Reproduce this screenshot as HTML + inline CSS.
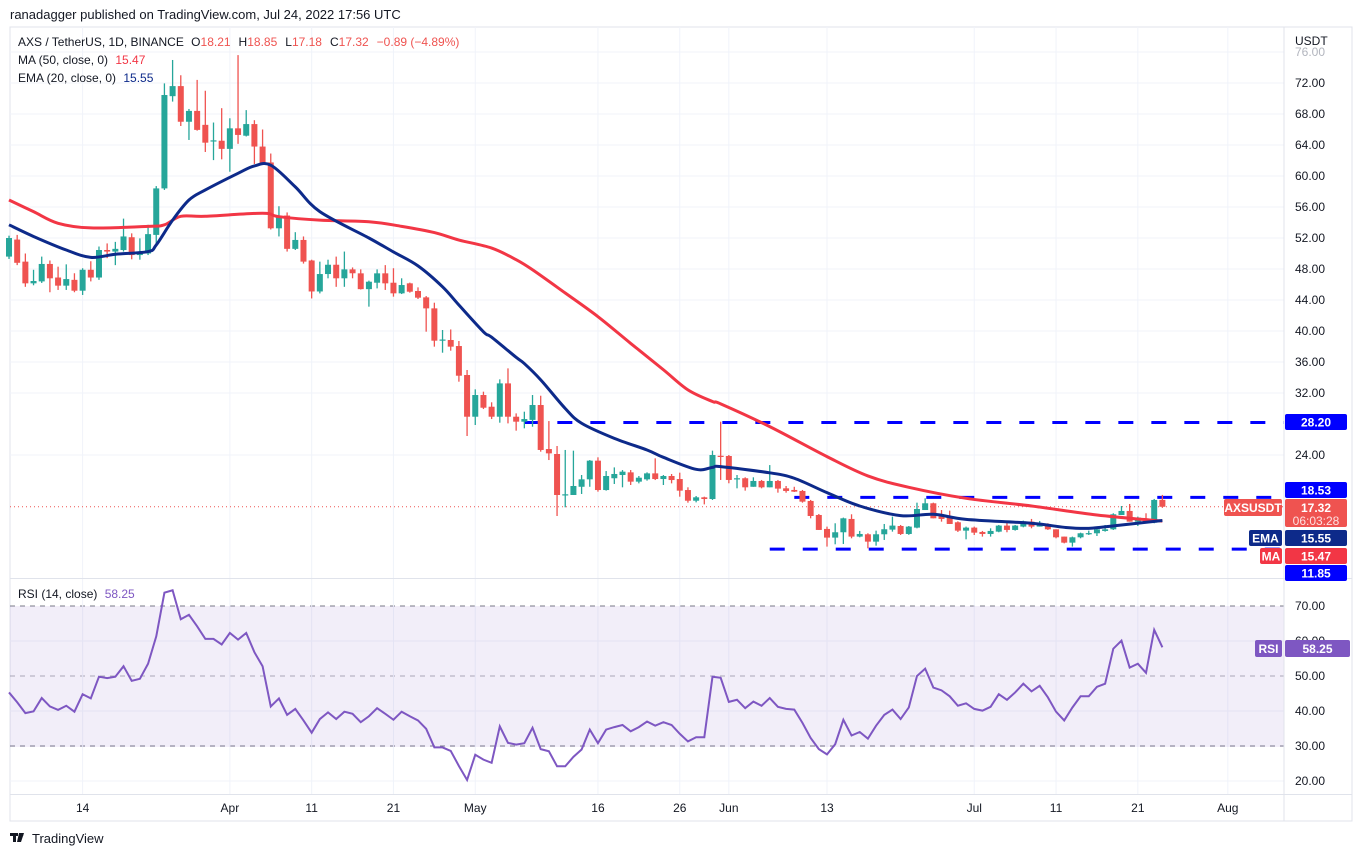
<!DOCTYPE html>
<html><head><meta charset="utf-8">
<style>
body{margin:0;background:#fff;width:1362px;height:857px;overflow:hidden;font-family:"Liberation Sans",sans-serif;}
svg{position:absolute;left:0;top:0}
</style></head>
<body>
<svg id="c" width="1362" height="857" viewBox="0 0 1362 857" font-family="Liberation Sans, sans-serif">
<text x="10" y="19" font-size="13" fill="#131722">ranadagger published on TradingView.com, Jul 24, 2022 17:56 UTC</text>
<rect x="10" y="27" width="1342" height="794" fill="none" stroke="#e0e3eb"/>
<g id="grid"></g>
<rect x="10" y="606" width="1274" height="141" fill="rgba(126,87,194,0.1)"/>
<g id="levels"></g>
<g id="candles"></g>
<g id="lines"></g>
<g id="rsi"></g>
<line x1="1284" y1="27" x2="1284" y2="821" stroke="#e0e3eb"/>
<line x1="10" y1="578.5" x2="1352" y2="578.5" stroke="#e0e3eb"/>
<line x1="10" y1="794.5" x2="1352" y2="794.5" stroke="#e0e3eb"/>
<g id="axis" font-size="12" fill="#131722"></g>
<g id="legend" font-size="12">
<text x="18" y="46" fill="#131722">AXS / TetherUS, 1D, BINANCE  <tspan dx="4">O</tspan><tspan fill="#ef5350">18.21</tspan><tspan dx="8">H</tspan><tspan fill="#ef5350">18.85</tspan><tspan dx="8">L</tspan><tspan fill="#ef5350">17.18</tspan><tspan dx="8">C</tspan><tspan fill="#ef5350">17.32</tspan><tspan dx="8" fill="#ef5350">−0.89 (−4.89%)</tspan></text>
<text x="18" y="64" fill="#131722">MA (50, close, 0) <tspan dx="4" fill="#f23645">15.47</tspan></text>
<text x="18" y="82" fill="#131722">EMA (20, close, 0) <tspan dx="4" fill="#0d2a8a">15.55</tspan></text>
<text x="18" y="598" fill="#131722">RSI (14, close) <tspan dx="4" fill="#7e57c2">58.25</tspan></text>
</g>
<g id="tags" font-size="12" font-weight="bold"></g>
<g>
<rect x="10" y="833" width="8" height="3" fill="#131722"/><rect x="13" y="833" width="3" height="9" fill="#131722"/>
<polygon points="19,833 24,833 21,842 17,842" fill="#131722"/><circle cx="22" cy="834.5" r="1.5" fill="#131722"/>
<text x="32" y="843" font-size="13" fill="#131722">TradingView</text>
</g>
</svg>
<script>
const opens=[49.6,51.8,48.95,46.15,46.4,48.65,46.9,45.85,46.6,45.2,47.9,46.9,50.45,50.25,50.45,52.1,49.8,50.0,52.4,58.4,70.3,71.6,67.0,68.4,66.6,64.55,64.55,63.5,66.15,65.2,66.7,63.8,61.75,53.25,54.9,50.6,51.75,49.1,45.1,47.35,48.55,46.8,47.95,47.44,45.4,46.23,47.44,46.23,44.86,46.15,45.16,44.34,42.92,38.8,38.84,38.06,34.32,28.94,31.74,30.23,28.94,33.24,28.94,28.3,28.53,30.45,24.77,24.13,18.88,18.84,19.9,20.86,23.27,19.48,21.0,21.42,21.76,20.56,20.86,21.63,20.9,21.29,20.9,19.48,18.1,18.54,18.32,23.9,23.87,20.9,21.0,19.9,20.65,19.83,20.65,19.7,19.49,19.36,18.07,16.26,14.46,13.34,14.03,15.75,13.47,13.77,12.82,13.77,14.37,14.84,13.81,14.63,16.9,17.77,16.13,15.96,15.32,14.24,14.63,14.07,13.81,14.11,14.89,14.33,14.76,15.4,14.76,15.1,14.41,13.47,12.69,13.38,13.9,13.9,14.2,14.41,16.26,16.78,15.4,15.7,15.27,18.21];
const highs=[52.3,52.4,50.0,47.9,49.6,49.1,48.3,48.6,47.45,48.1,49.0,50.9,51.3,51.5,54.5,52.6,51.95,53.7,58.7,71.95,74.97,73.0,68.65,72.4,71.0,66.9,68.75,67.45,75.6,68.5,67.2,66.0,62.9,56.1,55.3,52.75,52.2,49.2,48.95,49.2,49.6,50.25,48.2,47.95,46.5,47.95,48.5,48.1,46.8,46.24,45.63,44.51,43.65,40.13,40.2,38.71,34.97,32.47,32.17,30.8,33.76,35.18,29.37,29.59,31.74,31.65,28.38,25.16,24.65,24.56,21.42,23.35,23.7,21.93,22.4,22.06,22.06,21.29,21.76,23.57,21.42,21.55,21.72,19.83,18.71,18.62,24.56,28.3,24.0,21.42,21.12,21.12,20.78,22.7,20.78,20.0,19.9,19.49,18.2,16.39,14.76,15.19,15.92,16.35,14.2,13.9,14.24,15.1,16.05,14.97,14.84,17.85,18.41,17.85,16.9,16.82,15.44,14.76,14.76,14.2,14.54,14.97,15.4,14.97,15.53,15.75,15.49,15.19,14.41,13.47,13.47,13.98,14.24,14.76,14.97,16.48,17.42,17.68,16.05,16.48,18.33,18.85];
const lows=[49.3,48.5,45.7,45.9,46.2,45.0,45.3,45.3,45.0,44.65,46.4,46.6,49.4,48.5,50.25,49.25,49.2,49.8,50.9,58.2,69.6,66.45,64.65,65.85,63.1,62.05,62.15,60.55,64.15,65.1,61.55,61.55,53.1,52.2,50.25,50.45,48.7,44.2,44.85,46.8,45.7,45.7,46.8,45.35,43.14,45.5,45.3,44.43,44.77,44.95,44.13,39.91,37.98,37.2,37.46,33.46,26.45,27.87,29.93,28.64,28.17,28.08,27.14,27.44,27.65,24.43,23.35,16.13,17.25,18.84,18.97,19.9,19.27,19.4,20.26,19.83,20.13,20.34,20.69,20.77,20.13,20.34,18.62,17.85,17.89,17.63,18.2,20.78,20.35,19.7,19.4,19.9,19.7,19.83,19.14,19.14,19.23,17.85,15.83,14.33,12.18,12.48,12.52,13.25,13.38,11.96,12.3,13.04,14.11,13.68,13.7,14.54,16.9,15.83,15.4,15.1,14.07,13.12,13.68,13.47,13.47,14.03,14.03,14.24,14.67,14.54,14.76,14.33,13.25,12.6,12.18,13.25,13.68,13.55,14.11,14.33,16.26,15.4,14.84,15.19,15.19,17.18];
const closes=[52.0,48.8,46.15,46.45,48.65,46.8,45.85,46.7,45.2,47.9,46.9,50.45,50.25,50.6,52.2,49.8,50.25,52.5,58.4,70.45,71.6,67.0,68.4,65.95,64.3,64.6,63.5,66.15,65.3,66.7,63.8,61.6,53.25,54.9,50.6,51.75,48.95,45.1,47.35,48.55,46.8,47.95,47.45,45.4,46.36,47.44,46.15,44.86,45.93,45.07,44.3,42.92,38.75,38.9,37.98,34.23,28.94,31.74,30.1,28.94,33.24,28.94,28.3,28.64,30.45,24.65,24.21,18.84,18.93,20.0,20.86,23.27,19.48,21.29,21.55,21.85,20.56,21.07,21.63,20.9,21.29,20.77,19.4,18.1,18.54,18.32,24.0,23.85,20.78,21.0,19.83,20.65,19.83,20.65,19.66,19.36,19.27,17.98,16.13,14.33,13.34,14.03,15.83,13.47,13.81,12.82,13.77,14.42,14.89,13.81,14.76,17.03,17.77,15.83,15.75,15.1,14.24,14.63,13.98,13.81,14.2,14.89,14.33,14.89,15.44,14.76,15.19,14.41,13.38,12.69,13.38,13.9,13.92,14.41,14.41,16.35,16.78,15.4,15.92,15.27,18.2,17.32];
const maDays=[0,3,6,10,17,19,21,24,31,33,38,44,48,52,55,59,62,64,68,72,76,80,83,86,87,93,100,105,110,117,125,133,141];
const maValues=[56.9,55.4,53.9,53.3,53.5,53.7,54.8,54.8,55.2,54.75,54.3,54.1,53.5,52.7,51.74,50.7,49.2,47.9,44.9,41.85,38.4,35.0,32.4,30.9,30.6,27.66,23.79,21.3,19.83,18.41,17.42,16.26,15.47];
const emaDays=[0,3,7,10,13,17,18,20,22,24,28,30,32,35,38,44,47,50,53,55,58,59,62,63,65,68,70,74,78,80,84,86,87,93,96,100,104,109,113,117,125,129,132,136,141];
const emaValues=[53.7,52.2,50.45,49.5,49.9,50.25,51.1,54.3,56.9,58.2,60.35,61.3,61.4,58.6,55.4,52.0,50.2,48.4,45.7,43.35,39.9,39.2,36.6,35.8,33.7,30.0,28.1,26.15,24.65,23.7,22.15,22.4,22.5,21.7,21.0,19.14,17.42,16.18,16.35,15.7,15.19,14.67,14.54,14.97,15.55];
const rsiValues=[45.3,42.5,39.4,39.9,43.7,41.3,40.3,41.5,39.8,44.8,43.6,49.8,49.4,49.8,52.8,48.6,49.2,53.5,61.3,73.8,74.5,66.2,67.5,64.2,60.6,60.6,59.0,62.3,60.4,62.3,56.8,52.8,41.3,43.6,38.9,40.6,37.3,33.8,37.7,39.6,37.7,39.8,39.2,36.8,38.5,40.8,39.2,37.5,39.8,38.5,37.3,34.9,29.6,29.6,28.6,24.3,20.3,27.5,26.1,25.2,35.6,30.9,30.4,30.8,35.2,29.1,28.5,24.2,24.2,26.9,29.0,34.7,30.8,34.7,35.4,36.0,34.2,35.4,37.0,35.8,36.8,36.0,33.5,31.3,32.5,32.5,49.8,49.5,42.6,43.2,40.8,42.7,41.5,43.7,41.2,40.6,40.4,36.6,32.3,29.1,27.6,30.5,37.5,33.0,34.0,32.1,35.8,38.9,40.4,37.7,41.0,50.0,52.1,46.7,45.9,44.2,41.5,42.2,40.6,40.1,41.2,44.8,43.2,45.3,47.8,45.6,47.2,43.9,39.8,37.3,41.0,44.2,44.2,46.9,47.8,57.8,60.1,52.4,53.5,50.9,63.2,58.2];
const priceTicks=[76,72,68,64,60,56,52,48,44,40,36,32,24];
const rsiTicks=[70,60,50,40,30,20];
const dateTicks=[[9,"14"],[27,"Apr"],[37,"11"],[47,"21"],[57,"May"],[72,"16"],[82,"26"],[88,"Jun"],[100,"13"],[118,"Jul"],[128,"11"],[138,"21"],[149,"Aug"]];
const levelValues=[28.20,18.53,11.85];
const levelStartDays=[63,96,93];

const NS="http://www.w3.org/2000/svg";
const X=d=>9+d*8.18;
const Y=p=>83+(72-p)*7.75;
const R=v=>676-(v-50)*3.5;
function mk(tag,attrs,parent){const e=document.createElementNS(NS,tag);for(const k in attrs)e.setAttribute(k,attrs[k]);parent.appendChild(e);return e;}
const grid=document.getElementById('grid'),axis=document.getElementById('axis');
priceTicks.forEach(t=>{const y=Y(t);
 if(y>30){const l=mk('line',{x1:10,x2:1284,y1:y,y2:y,stroke:'#f0f3fa'},grid);
 
 }
 const tx=mk('text',{x:1295,y:y+4,fill:t===76?'#b2b5be':'#131722'},axis);tx.textContent=t.toFixed(2);
 
 });
const u=mk('text',{x:1295,y:45},axis);u.textContent='USDT';


rsiTicks.forEach(t=>{const y=R(t);
 const l=mk('line',{x1:10,x2:1284,y1:y,y2:y,stroke:(t===70||t===50||t===30)?'#787b86':'#f0f3fa','stroke-dasharray':(t===70||t===50||t===30)?'5,5':'none','stroke-opacity':t===50?0.6:1},grid);
 
 
 const tx=mk('text',{x:1295,y:y+4},axis);tx.textContent=t.toFixed(2);
 
 });
dateTicks.forEach(([d,s])=>{const x=X(d);
 const l=mk('line',{x1:x,x2:x,y1:27,y2:794,stroke:'#f0f3fa'},grid);
 
 
 const tx=mk('text',{x:x,y:812,'text-anchor':'middle'},axis);tx.textContent=s;
 
 });
const lv=document.getElementById('levels');
levelValues.forEach((v,i)=>{const y=Y(v);
 const l=mk('line',{x1:X(levelStartDays[i]),x2:1284,y1:y,y2:y,stroke:'#0000ff','stroke-width':3,'stroke-dasharray':'15,18'},lv);
 
 });
const cl=mk('line',{x1:10,x2:1284,y1:Y(closes[closes.length-1]),y2:Y(closes[closes.length-1]),stroke:'#ef5350','stroke-dasharray':'1,3'},lv);


const cg=document.getElementById('candles');
opens.forEach((o,i)=>{const c=closes[i],x=X(i),col=c>=o?'#26a69a':'#ef5350';
 const w=mk('line',{x1:x,x2:x,y1:Y(highs[i]),y2:Y(lows[i]),stroke:col,'stroke-width':1.3},cg);
 
 
 const t=Y(Math.max(o,c)),b=Y(Math.min(o,c));
 const r=mk('rect',{x:x-3,y:t,width:6,height:Math.max(1.2,b-t),fill:col},cg);
 
 });
function smooth(xs,ys){let d='M'+xs[0]+','+ys[0];for(let i=1;i<xs.length;i++){const x0=xs[i-1],y0=ys[i-1],x1=xs[i],y1=ys[i];const xp=xs[i-2]!==undefined?xs[i-2]:x0,yp=ys[i-2]!==undefined?ys[i-2]:y0;const xn=xs[i+1]!==undefined?xs[i+1]:x1,yn=ys[i+1]!==undefined?ys[i+1]:y1;d+=' C'+(x0+(x1-xp)/6)+','+(y0+(y1-yp)/6)+' '+(x1-(xn-x0)/6)+','+(y1-(yn-y0)/6)+' '+x1+','+y1;}return d;}
const lg=document.getElementById('lines');
const ma=mk('path',{d:smooth(maDays.map(X),maValues.map(Y)),fill:'none',stroke:'#f23645','stroke-width':3},lg);


const ema=mk('path',{d:smooth(emaDays.map(X),emaValues.map(Y)),fill:'none',stroke:'#0d2a8a','stroke-width':3},lg);


const rp=mk('polyline',{points:rsiValues.map((v,i)=>X(i)+','+R(v)).join(' '),fill:'none',stroke:'#7e57c2','stroke-width':2},document.getElementById('rsi'));


const tg=document.getElementById('tags');
function tag(x,y,w,h,bg,txt,name,fs){const r=mk('rect',{x:x,y:y,width:w,height:h,fill:bg,rx:2},tg);
 
 
 const t=mk('text',{x:x+w/2,y:y+h/2+4.5,'text-anchor':'middle',fill:'#fff','font-size':fs||12},tg);t.textContent=txt;
 
 }
tag(1285,414,62,16,'#0000ff','28.20','level-28-tag');
tag(1285,482,62,16,'#0000ff','18.53','level-18-tag');
tag(1224,499,58,17,'#ef5350','AXSUSDT','symbol-tag');
mk('rect',{x:1285,y:499,width:62,height:28,fill:'#ef5350',rx:2},tg);
const p1=mk('text',{x:1316,y:512,'text-anchor':'middle',fill:'#fff'},tg);p1.textContent='17.32';


const p2=mk('text',{x:1316,y:525,'text-anchor':'middle',fill:'#fde0e0','font-weight':'normal'},tg);p2.textContent='06:03:28';


tag(1249,530,33,16,'#0d2a8a','EMA','ema-name-tag');
tag(1285,530,62,16,'#0d2a8a','15.55','ema-value-tag');
tag(1260,548,22,16,'#f23645','MA','ma-name-tag');
tag(1285,548,62,16,'#f23645','15.47','ma-value-tag');
tag(1285,565,62,16,'#0000ff','11.85','level-11-tag');
tag(1255,640,27,17,'#7e57c2','RSI','rsi-name-tag');
tag(1285,640,65,17,'#7e57c2','58.25','rsi-value-tag');
</script>
</body></html>
